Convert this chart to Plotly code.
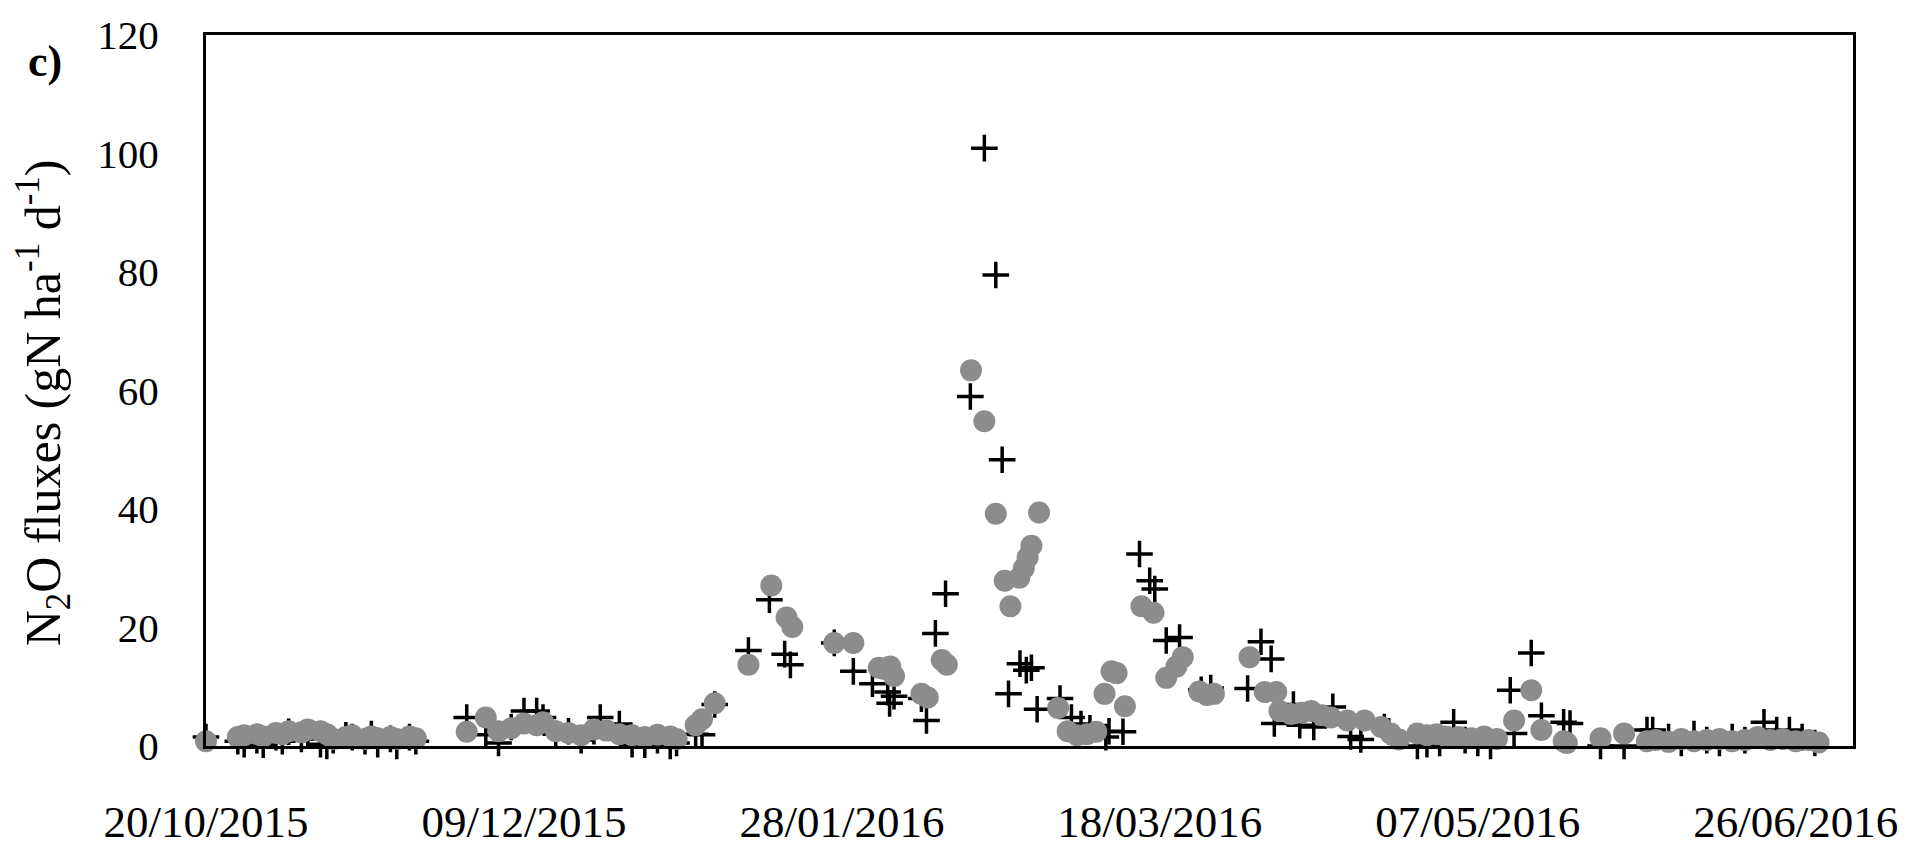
import pandas as pd
import plotly.graph_objects as go

FIRST_SAMPLING = pd.Timestamp("2015-10-20")

# Treatment drawn with black crosses: days after first sampling, N2O flux (gN ha-1 d-1)
cross_day = [
    0, 5, 6, 8, 9, 11, 12, 13, 15, 16, 18, 19, 20, 22, 23, 25, 26, 27, 29, 30, 32, 33,
    41, 44, 46, 48, 50, 52, 53, 55, 57, 59, 61, 62, 65, 67, 69, 71, 73, 74,
    77, 78, 80,
    85.3, 88.6, 91, 91.9, 98.8, 101.8, 104.8, 107.2, 107.5, 108.2, 112.5, 113.3, 114.7, 116.3,
    120.2, 122.4, 124.2, 125.2, 126.2, 128, 129, 129.8, 130.7, 134.3, 136.1, 137.6, 139, 141.5, 142, 144.2,
    146.8, 148.4, 149.2, 151, 153.1, 156.5, 158,
    163.8, 165.9, 167.5, 168, 171, 172, 174.2, 177.2, 180, 181.6, 185.3, 186,
    190.5, 192, 194, 196.2, 198, 200, 202, 205.1, 205.7, 208.4, 210, 213.5, 214.5, 219.3, 223,
    226.6, 227.5, 230, 232, 234, 236, 238, 240, 242, 245, 247, 249, 251, 253,
]
cross_flux = [
    1.5, 0.8, 0.3, 1.0, 0.2, 1.5, 0.8, 2.4, 1.2, 1.8, 0.3, 0.0, 1.0, 1.8, 1.5, 0.8, 2.0, 0.3, 1.2, 0.0, 1.5, 0.8,
    4.8, 1.9, 0.5, 3.2, 5.9, 5.9, 4.8, 2.0, 2.5, 1.0, 2.5, 4.8, 3.7, 0.3, 0.2, 1.0, 0.0, 0.5,
    2.0, 1.9, 7.0,
    16.1, 24.7, 15.5, 13.7, 17.4, 12.6, 10.5, 9.1, 7.2, 8.4, 8.0, 4.3, 19.0, 25.7,
    59.0, 100.9, 79.5, 48.3, 8.8, 13.9, 12.8, 13.2, 6.2, 8.0, 4.8, 3.7, 3.0, 1.5, 2.5, 2.4,
    32.4, 27.9, 26.5, 17.8, 18.3, 9.5, 9.8,
    9.7, 17.6, 14.7, 3.8, 7.0, 3.5, 3.2, 6.6, 1.6, 1.1, 3.2, 2.5,
    0.0, 0.3, 0.5, 4.0, 1.0, 0.5, 0.0, 9.4, 2.1, 15.7, 5.1, 4.0, 3.8, 0.0, 0.0,
    2.7, 2.7, 1.5, 0.5, 2.0, 1.0, 0.5, 1.5, 1.0, 4.0, 2.7, 2.7, 1.5, 0.5,
]

# Treatment drawn with grey circles
circle_day = [
    0, 5, 6, 8, 9, 11, 12, 13, 15, 16, 18, 19, 20, 22, 23, 25, 26, 27, 29, 30, 32, 33,
    41, 44, 46, 48, 50, 52, 53, 55, 57, 59, 61, 63, 65, 67, 69, 71, 73, 74,
    77, 78, 80, 85.3,
    88.9, 91.3, 92.2, 98.8, 101.8, 105.8, 106.7, 107.6, 108.2, 112.5, 113.5, 115.7, 116.5,
    120.3, 122.4, 124.2, 125.6, 126.5, 127.9, 128.6, 129.2, 129.8, 131, 134, 135.5, 137, 138.5, 140,
    141.3, 142.4, 143.2, 144.5,
    147.1, 149, 151, 152.6, 153.6, 156.2, 157.4, 158.5,
    164.1, 166.5, 168.3, 168.8, 170.6, 172.3, 173.8, 175.5, 176.9, 179.5, 182.2, 184.8, 186.3, 187.6,
    190.5, 192, 193.5, 195, 197, 199, 201, 203, 205.7, 208.4, 210, 213.5, 214, 219.3, 223,
    226.6, 228, 230, 232, 234, 236, 238, 240, 242, 244, 246, 248, 250, 252, 253.6,
]
circle_flux = [
    0.8, 1.5, 1.8, 2.0, 1.6, 2.2, 2.0, 2.5, 2.3, 2.8, 2.5, 2.0, 1.2, 1.5, 1.8, 1.2, 1.6, 1.3, 1.5, 1.2, 1.6, 1.3,
    2.4, 4.8, 2.5, 3.0, 3.8, 3.5, 4.0, 2.5, 2.2, 1.8, 2.8, 2.6, 2.0, 1.8, 1.5, 1.9, 1.6, 1.2,
    3.5, 4.5, 7.2, 13.7,
    27.1, 21.7, 20.1, 17.4, 17.4, 13.2, 13.0, 13.4, 11.8, 8.8, 8.2, 14.5, 13.7,
    63.4, 54.8, 39.2, 27.9, 23.6, 28.4, 30.0, 31.8, 33.8, 39.4, 6.4, 2.5, 1.8, 2.0, 2.4,
    8.8, 12.6, 12.3, 6.7,
    23.6, 22.5, 11.5, 13.4, 15.0, 9.2, 8.6, 8.8,
    15.0, 9.1, 9.1, 5.9, 5.4, 5.6, 5.9, 5.2, 4.8, 4.3, 4.3, 3.2, 2.1, 1.1,
    2.1, 1.8, 2.0, 1.6, 1.5, 1.3, 1.6, 1.2, 4.3, 9.4, 2.7, 0.8, 0.5, 1.3, 2.1,
    0.8, 1.0, 0.7, 1.2, 0.8, 1.0, 1.2, 0.8, 1.0, 1.5, 1.0, 1.2, 0.8, 1.0, 0.6,
]

y_ticks = [0, 20, 40, 60, 80, 100, 120]
x_range = ["2015-10-20", "2016-07-05"]

cross_dates = FIRST_SAMPLING + pd.to_timedelta(cross_day, unit="D")
circle_dates = FIRST_SAMPLING + pd.to_timedelta(circle_day, unit="D")

SERIF = "Liberation Serif, Times New Roman, serif"

fig = go.Figure()
fig.add_trace(go.Scatter(
    x=cross_dates, y=cross_flux, mode="markers", cliponaxis=False,
    marker=dict(symbol="cross-thin", size=19, color="black",
                line=dict(color="black", width=3.5)),
    showlegend=False,
))
fig.add_trace(go.Scatter(
    x=circle_dates, y=circle_flux, mode="markers", cliponaxis=False,
    marker=dict(symbol="circle", size=22, color="#8c8c8c", line=dict(width=0)),
    showlegend=False,
))

fig.update_layout(
    width=1910, height=859,
    margin=dict(l=206, r=53, t=34, b=79),
    paper_bgcolor="white", plot_bgcolor="white",
    font=dict(family=SERIF, color="black"),
    xaxis=dict(
        type="date", range=x_range,
        tick0="2015-10-20", dtick=50 * 86400000, tickformat="%d/%m/%Y",
        ticks="", showgrid=False, zeroline=False,
        showline=True, linecolor="black", linewidth=3, mirror=True,
        tickfont=dict(family=SERIF, size=45, color="black"),
        ticklabelstandoff=34,
    ),
    yaxis=dict(
        range=[0, 120], tickvals=y_ticks,
        ticks="", showgrid=False, zeroline=False,
        showline=True, linecolor="black", linewidth=3, mirror=True,
        tickfont=dict(family=SERIF, size=41, color="black"),
        ticklabelstandoff=36,
    ),
    annotations=[
        dict(
            text="N<sub>2</sub>O fluxes (gN ha<sup>-1</sup> d<sup>-1</sup>)",
            xref="paper", yref="paper", x=-0.0987, y=0.4826,
            xanchor="center", yanchor="middle", textangle=-90,
            showarrow=False, font=dict(family=SERIF, size=50, color="black"),
        ),
        dict(
            text="<b>c)</b>", xref="paper", yref="paper",
            x=-0.0975, y=0.9625, xanchor="center", yanchor="middle",
            showarrow=False, font=dict(family=SERIF, size=44, color="black"),
        ),
    ],
)

fig.write_html("out.html")
